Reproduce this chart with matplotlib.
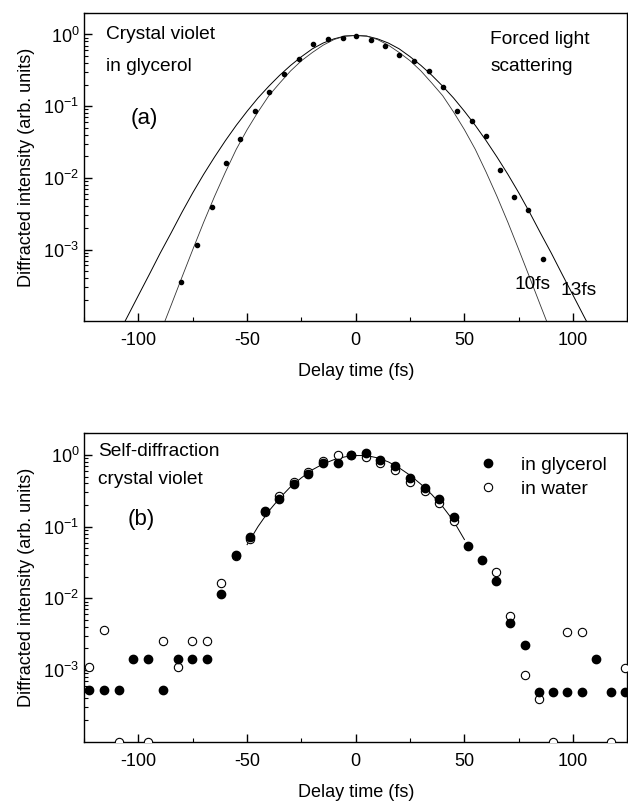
import numpy as np
import matplotlib
matplotlib.use('Agg')
import matplotlib.pyplot as plt
from matplotlib.ticker import FixedLocator, LogLocator, NullFormatter, LogFormatterSciNotation

plt.rcParams['font.family'] = ['Liberation Sans', 'DejaVu Sans']
plt.rcParams['mathtext.default'] = 'regular'
plt.rcParams['axes.unicode_minus'] = False

# (a) forced light scattering, crystal violet in glycerol
fls_t = [-80.6, -73.0, -66.2, -59.6, -53.1, -46.5, -39.7, -33.0, -26.2, -19.5, -12.7, -6.1, 0.3,
         6.9, 13.6, 20.1, 26.8, 33.5, 40.0, 46.6, 53.3, 60.0, 66.3, 72.8, 79.3, 86.0]
fls_I = [3.5e-4, 1.17e-3, 3.96e-3, 0.016, 0.035, 0.085, 0.158, 0.28, 0.45, 0.74, 0.86, 0.89, 0.95,
         0.85, 0.70, 0.52, 0.42, 0.31, 0.187, 0.085, 0.062, 0.0387, 0.0128, 0.00536, 0.0036, 7.4e-4]

# fitted curves (13 fs and 10 fs pulses)
fit13_t = [-110, -105, -100, -95, -90, -85, -80, -75, -70, -65, -60, -55, -50, -45, -40, -35, -30,
           -25, -20, -15, -10, -5, 0, 5, 10, 15, 20, 25, 30, 35, 40, 45, 50, 55, 60, 65, 70, 75,
           80, 85, 90, 95, 100, 105, 110]
fit13_I = [6.0e-5, 1.17e-4, 2.3e-4, 4.5e-4, 8.9e-4, 0.0017, 0.0033, 0.0062, 0.0112, 0.0195, 0.033,
           0.054, 0.085, 0.13, 0.19, 0.27, 0.37, 0.49, 0.63, 0.76, 0.87, 0.95, 0.97,
           0.95, 0.87, 0.76, 0.63, 0.49, 0.37, 0.27, 0.19, 0.13, 0.085, 0.054, 0.033, 0.0195,
           0.0112, 0.0062, 0.0033, 0.0017, 8.9e-4, 4.5e-4, 2.3e-4, 1.17e-4, 6.0e-5]
fit10_t = [-90, -85, -80, -75, -70, -65, -60, -55, -50, -45, -40, -35, -30, -25, -20, -15, -10, -5,
           0, 5, 10, 15, 20, 25, 30, 35, 40, 45, 50, 55, 60, 65, 70, 75, 80, 85, 90]
fit10_I = [6.8e-5, 1.66e-4, 4.1e-4, 0.0010, 0.0024, 0.0055, 0.012, 0.025, 0.047, 0.083, 0.14, 0.21,
           0.31, 0.43, 0.56, 0.71, 0.85, 0.95, 0.97, 0.95, 0.85, 0.71, 0.56, 0.43, 0.31, 0.21,
           0.14, 0.083, 0.047, 0.025, 0.012, 0.0055, 0.0024, 0.0010, 4.1e-4, 1.66e-4, 6.8e-5]

# (b) self-diffraction, crystal violet
gly_t = [-122.8, -115.9, -109.0, -102.4, -95.5, -88.8, -81.9, -75.3, -68.4, -62.0, -55.1, -48.6,
         -41.7, -35.2, -28.4, -21.9, -15.0, -8.4, -2.0, 4.9, 11.1, 17.9, 24.8, 31.7, 38.2, 45.0,
         51.5, 57.9, 64.5, 71.1, 77.8, 84.4, 91.0, 97.4, 104.0, 110.7, 117.6, 123.9]
gly_I = [5.2e-4, 5.2e-4, 5.2e-4, 1.44e-3, 1.44e-3, 5.2e-4, 1.44e-3, 1.44e-3, 1.44e-3, 0.0115,
         0.0405, 0.0714, 0.166, 0.241, 0.394, 0.538, 0.77, 0.78, 1.0, 1.08, 0.85, 0.71, 0.47,
         0.35, 0.24, 0.134, 0.054, 0.0337, 0.0176, 0.00453, 0.00226, 5.0e-4, 5.0e-4, 5.0e-4,
         5.0e-4, 1.4e-3, 5.0e-4, 5.0e-4]
wat_t = [-122.8, -115.9, -109.0, -95.5, -88.8, -81.9, -75.3, -68.4, -62.0, -55.1, -48.6, -41.7,
         -35.2, -28.4, -21.9, -15.0, -8.4, -2.0, 4.9, 11.1, 17.9, 24.8, 31.7, 38.2, 45.0, 64.5,
         71.1, 77.8, 84.4, 91.0, 97.4, 104.0, 117.6, 123.9]
wat_I = [1.1e-3, 3.6e-3, 1e-4, 1e-4, 2.57e-3, 1.1e-3, 2.57e-3, 2.57e-3, 0.0163, 0.0383, 0.0676,
         0.16, 0.268, 0.42, 0.586, 0.82, 1.0, 1.0, 0.93, 0.77, 0.62, 0.425, 0.31, 0.212, 0.12,
         0.023, 0.00573, 8.4e-4, 3.9e-4, 1e-4, 3.4e-3, 3.4e-3, 1e-4, 1.07e-3]
sd_fit_t = [-50, -45, -40, -35, -30, -25, -20, -15, -10, -5, 0, 5, 10, 15, 20, 25, 30, 35, 40, 45, 50]
sd_fit_I = [0.056, 0.10, 0.165, 0.25, 0.36, 0.48, 0.62, 0.75, 0.86, 0.94, 0.98, 0.98, 0.91, 0.80,
            0.66, 0.52, 0.39, 0.28, 0.19, 0.12, 0.066]

fs = 13
fs_txt = 13.8
fig = plt.figure(figsize=(6.28, 8.07), dpi=100)
axA = fig.add_axes([0.134, 0.602, 0.865, 0.382])
axB = fig.add_axes([0.134, 0.081, 0.865, 0.382])


def style(ax):
    ax.set_yscale('log')
    ax.set_xlim(-125, 125)
    ax.set_ylim(1e-4, 2.0)
    ax.set_xticks([-100, -50, 0, 50, 100])
    ax.set_xticks([-125, -75, -25, 25, 75, 125], minor=True)
    ax.yaxis.set_major_locator(FixedLocator([1e-3, 1e-2, 1e-1, 1]))
    ax.yaxis.set_major_formatter(LogFormatterSciNotation())
    ax.yaxis.set_minor_locator(LogLocator(base=10, subs=np.arange(2, 10), numticks=20))
    ax.yaxis.set_minor_formatter(NullFormatter())
    ax.tick_params(which='both', direction='in', top=False, right=False, labelsize=fs)
    ax.tick_params(which='major', length=6, width=1)
    ax.tick_params(which='minor', length=3, width=0.8)
    ax.tick_params(axis='x', pad=8)
    for s in ax.spines.values():
        s.set_linewidth(1.0)
    ax.set_xlabel('Delay time (fs)', fontsize=fs, labelpad=10)
    ax.set_ylabel('Diffracted intensity (arb. units)', fontsize=fs, labelpad=6)


style(axA)
axA.plot(fit13_t, fit13_I, color='black', lw=0.7)
axA.plot(fit10_t, fit10_I, color='#333333', lw=0.6)
axA.plot(fls_t, fls_I, 'o', color='black', ms=3)
axA.text(-115, 1.0, 'Crystal violet', fontsize=fs_txt, va='center')
axA.text(-115, 0.36, 'in glycerol', fontsize=fs_txt, va='center')
axA.text(-103.5, 0.067, '(a)', fontsize=16, va='center')
axA.text(62, 0.85, 'Forced light', fontsize=fs_txt, va='center')
axA.text(62, 0.36, 'scattering', fontsize=fs_txt, va='center')
axA.text(73, 3.2e-4, '10fs', fontsize=fs_txt, va='center')
axA.text(94, 2.7e-4, '13fs', fontsize=fs_txt, va='center')

style(axB)
axB.plot(sd_fit_t, sd_fit_I, color='black', lw=0.7)
axB.plot(wat_t, wat_I, 'o', mfc='white', mec='black', mew=0.8, ms=6, label='in water', zorder=3)
axB.plot(gly_t, gly_I, 'o', color='black', ms=6, label='in glycerol', zorder=4)
axB.text(-118.5, 1.11, 'Self-diffraction', fontsize=fs_txt, va='center')
axB.text(-118.5, 0.46, 'crystal violet', fontsize=fs_txt, va='center')
axB.text(-105, 0.124, '(b)', fontsize=16, va='center')
h, l = axB.get_legend_handles_labels()
axB.legend(h[::-1], l[::-1], loc='upper left', bbox_to_anchor=(0.694, 0.95), frameon=False,
           fontsize=fs_txt, handletextpad=0.7, labelspacing=0.35, borderaxespad=0)

fig.savefig('out.png', dpi=100, facecolor='white')
